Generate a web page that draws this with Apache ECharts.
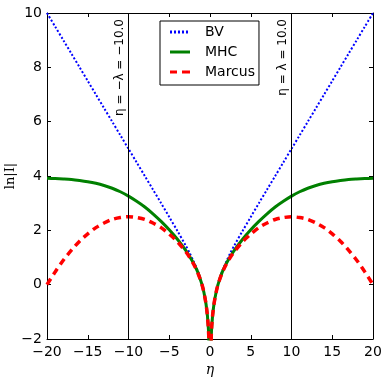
<!DOCTYPE html>
<html>
<head>
<meta charset="utf-8">
<script src="https://cdn.jsdelivr.net/npm/echarts@6/dist/echarts.min.js"></script>
<style>
  html, body { margin: 0; padding: 0; background: #fff; }
  #chart { width: 388px; height: 382px; }
</style>
</head>
<body>
<div id="chart"></div>
<script>
// overpotential eta (x) and ln|I|
const etaValues = [
  -20, -19, -18, -17, -16, -15, -14, -13, -12, -11, -10, -9, -8, -7, -6, -5, -4, -3,
  -2.5, -2, -1.5, -1, -0.75, -0.5, -0.35, -0.25, -0.2, -0.15, -0.1,
  0.1, 0.15, 0.2, 0.25, 0.35, 0.5, 0.75, 1, 1.5, 2, 2.5,
  3, 4, 5, 6, 7, 8, 9, 10, 11, 12, 13, 14, 15, 16, 17, 18, 19, 20
]
const bvValues = [
  10, 9.5, 9, 8.5, 8, 7.5, 7, 6.5, 6, 5.5, 5, 4.5, 4.0, 3.5, 3.0, 2.49, 1.98, 1.45,
  1.17, 0.85, 0.5, 0.04, -0.26, -0.68, -1.05, -1.38, -1.61, -1.9, -2.3,
  -2.3, -1.9, -1.61, -1.38, -1.05, -0.68, -0.26, 0.04, 0.5, 0.85, 1.17,
  1.45, 1.98, 2.49, 3.0, 3.5, 4.0, 4.5, 5, 5.5, 6, 6.5, 7, 7.5, 8, 8.5, 9, 9.5, 10
]
const mhcValues = [
  3.915, 3.905, 3.89, 3.87, 3.835, 3.79, 3.73, 3.65, 3.55, 3.42, 3.26, 3.07, 2.86, 2.61, 2.33, 2.02, 1.67, 1.27,
  1.04, 0.78, 0.46, 0.02, -0.28, -0.69, -1.05, -1.39, -1.61, -1.9, -2.3,
  -2.3, -1.9, -1.61, -1.39, -1.05, -0.69, -0.28, 0.02, 0.46, 0.78, 1.04,
  1.27, 1.67, 2.02, 2.33, 2.61, 2.86, 3.07, 3.26, 3.42, 3.55, 3.65, 3.73, 3.79, 3.835, 3.87, 3.89, 3.905, 3.915
]
const marcusValues = [
  0.0, 0.47, 0.9, 1.27, 1.6, 1.87, 2.1, 2.27, 2.4, 2.47, 2.5, 2.47, 2.4, 2.27, 2.1, 1.86, 1.58, 1.22,
  1.01, 0.75, 0.44, 0.02, -0.28, -0.69, -1.05, -1.39, -1.61, -1.9, -2.3,
  -2.3, -1.9, -1.61, -1.39, -1.05, -0.69, -0.28, 0.02, 0.44, 0.75, 1.01,
  1.22, 1.58, 1.86, 2.1, 2.27, 2.4, 2.47, 2.5, 2.47, 2.4, 2.27, 2.1, 1.87, 1.6, 1.27, 0.9, 0.47, 0.0
]
const lambdaLines = [-10, 10]
const lambdaLabels = ['−10.0', '10.0']

const pairs = (ys) => etaValues.map((x, i) => [x, ys[i]])
const minus = (v) => String(v).replace('-', '−')

const FONT = 'DejaVu Sans'
const chart = echarts.init(document.getElementById('chart'), null, { renderer: 'canvas' })

const frameAxis = {
  axisLine: { show: true, onZero: false, lineStyle: { color: '#000', width: 1 } },
  axisTick: { show: true, inside: true, length: 4, lineStyle: { color: '#000' } },
  splitLine: { show: false },
}

const option = {
  backgroundColor: '#fff',
  animation: false,
  grid: { left: 47, right: 15, top: 13, bottom: 43, outerBoundsMode: 'none', containLabel: false },
  legend: {
    orient: 'vertical',
    left: 160,
    top: 21,
    padding: [4, 4, 6, 10],
    itemGap: 6,
    itemWidth: 20,
    itemHeight: 3,
    borderColor: '#000',
    borderWidth: 1,
    borderRadius: 0,
    backgroundColor: '#fff',
    textStyle: { fontFamily: FONT, fontSize: 14, lineHeight: 14, color: '#000', padding: [0, 0, 0, 10] },
    data: [
      { name: 'BV', icon: 'path://M0,0h2v3h-2z M4,0h2v3h-2z M8,0h2v3h-2z M12,0h2v3h-2z M16,0h2v3h-2z M20,0h0.01v3h-0.01z' },
      { name: 'MHC', icon: 'path://M0,0h20v3h-20z' },
      { name: 'Marcus', icon: 'path://M0,0h7v3h-7z M12,0h8v3h-8z' },
    ],
  },
  xAxis: [
    {
      type: 'value', min: -20, max: 20, interval: 5,
      name: 'η', nameLocation: 'middle', nameGap: 24, nameMoveOverlap: false,
      nameTextStyle: { fontFamily: 'DejaVu Serif', fontStyle: 'italic', fontSize: 14, color: '#000' },
      axisLabel: { fontFamily: FONT, fontSize: 14, color: '#000', margin: 6, formatter: minus },
      ...frameAxis,
    },
    {
      type: 'value', min: -20, max: 20, interval: 5, position: 'top',
      axisLabel: { show: false }, ...frameAxis,
    },
  ],
  yAxis: [
    {
      type: 'value', min: -2, max: 10, interval: 2,
      name: 'ln|I|', nameLocation: 'middle', nameGap: 30, nameRotate: 90, nameMoveOverlap: false,
      nameTextStyle: { fontFamily: 'DejaVu Serif', fontSize: 13, color: '#000' },
      axisLabel: { fontFamily: FONT, fontSize: 14, color: '#000', margin: 5, formatter: minus },
      ...frameAxis,
    },
    {
      type: 'value', min: -2, max: 10, interval: 2, position: 'right',
      axisLabel: { show: false }, ...frameAxis,
    },
  ],
  series: [
    {
      name: 'BV', type: 'line', data: pairs(bvValues),
      symbol: 'none', smooth: 0.3, clip: true,
      lineStyle: { color: '#0000ff', width: 2, type: [2, 2] },
      itemStyle: { color: '#0000ff' },
      markLine: {
        silent: true, symbol: 'none',
        lineStyle: { color: '#000', width: 1, type: 'solid' },
        label: {
          position: 'insideEndTop', distance: [6, 3],
          fontFamily: FONT, fontSize: 12, color: '#000',
          formatter: (p) => 'η = ' + (p.value < 0 ? '−λ' : 'λ') + ' = ' + lambdaLabels[lambdaLines.indexOf(p.value)],
        },
        data: lambdaLines.map((v) => ({ xAxis: v })),
      },
    },
    {
      name: 'MHC', type: 'line', data: pairs(mhcValues),
      symbol: 'none', smooth: 0.3, clip: true,
      lineStyle: { color: '#008000', width: 3 },
      itemStyle: { color: '#008000' },
    },
    {
      name: 'Marcus', type: 'line', data: pairs(marcusValues),
      symbol: 'none', smooth: 0.3, clip: true,
      lineStyle: { color: '#ff0000', width: 3.5, type: [7, 5] },
      itemStyle: { color: '#ff0000' },
    },
  ],
}

chart.setOption(option)
</script>
</body>
</html>
